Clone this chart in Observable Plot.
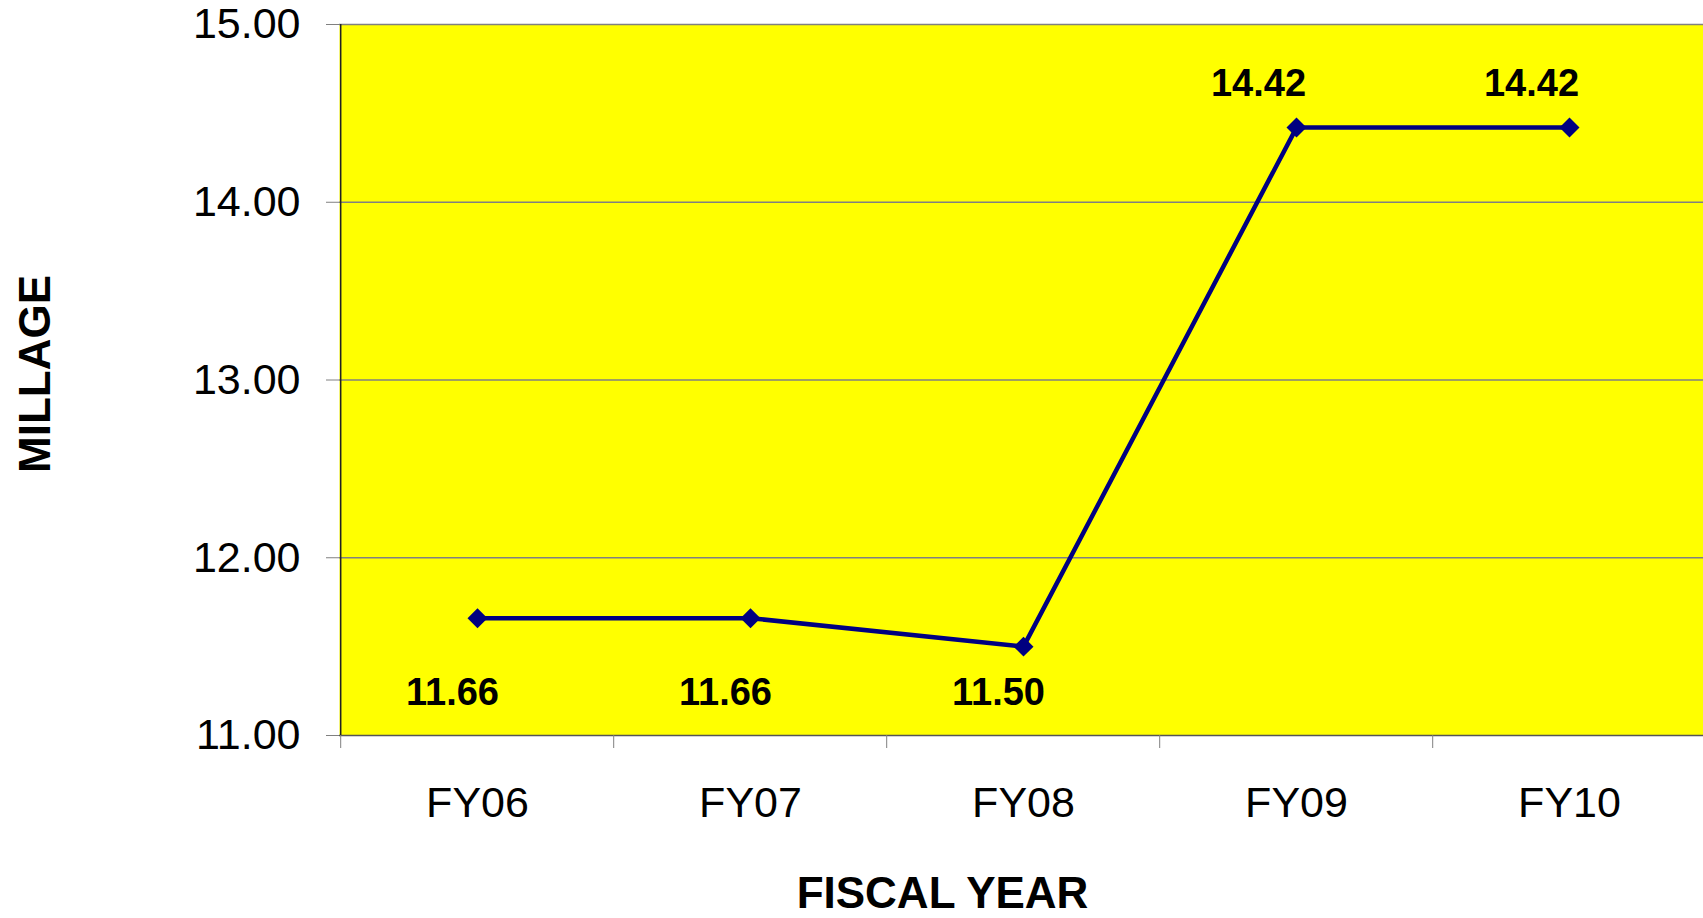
<!DOCTYPE html>
<html>
<head>
<meta charset="utf-8">
<script src="https://cdn.jsdelivr.net/npm/d3@7"></script>
<script src="https://cdn.jsdelivr.net/npm/@observablehq/plot@0.6"></script>
<style>
  html, body { margin: 0; padding: 0; background: #fff; overflow: hidden; }
  svg { display: block; }
</style>
</head>
<body>
<div id="chart"></div>
<script>
const years = ["FY06", "FY07", "FY08", "FY09", "FY10"];
const millage = [11.66, 11.66, 11.50, 14.42, 14.42];
const yTicks = [11, 12, 13, 14, 15];
const xTitle = "FISCAL YEAR";
const yTitle = "MILLAGE";

const data = years.map((year, i) => ({year, value: millage[i]}));
const below = data.filter(d => d.value < 13);
const above = data.filter(d => d.value >= 13);

const W = 1703, H = 918;
const xRange = [339, 1707];
const half = (xRange[1] - xRange[0]) / years.length / 2;
const fmt = d3.format(".2f");

const chart = Plot.plot({
  width: W,
  height: H,
  marginLeft: 339,
  marginRight: 0,
  marginTop: 24,
  marginBottom: 183,
  style: {fontFamily: "'Liberation Sans', Arial, sans-serif", color: "#000", background: "#fff"},
  x: {type: "point", domain: years, range: xRange, padding: 0.5, axis: null},
  y: {domain: [11, 15], axis: null},
  marks: [
    Plot.frame({fill: "#FFFF00", stroke: null}),
    Plot.ruleY(yTicks.slice(1), {y: d => d, stroke: "#808080", strokeWidth: 1.5}),
    Plot.ruleY([yTicks[0]], {y: d => d, stroke: "#555", strokeWidth: 1.5}),
    Plot.ruleX([years[0]], {x: d => d, dx: -half, stroke: "#222", strokeWidth: 1.5}),
    Plot.axisY({ticks: yTicks, tickFormat: fmt, tickSize: 13, tickPadding: 26, fontSize: 43, stroke: "#808080", label: null}),
    Plot.axisX({tickSize: 13, tickFormat: () => "", dx: -half, stroke: "#808080", label: null}),
    Plot.axisX({tickSize: 0, tickPadding: 51, fontSize: 43, label: null}),
    Plot.line(data, {x: "year", y: "value", stroke: "#000080", strokeWidth: 4.5}),
    Plot.dot(data, {x: "year", y: "value", symbol: "diamond2", r: 9, fill: "#000080", stroke: "none"}),
    Plot.text(below, {x: "year", text: d => fmt(d.value), frameAnchor: "bottom", dy: -31, dx: -25, fontSize: 38, fontWeight: "bold", fill: "#000"}),
    Plot.text(above, {x: "year", y: "value", text: d => fmt(d.value), dy: -44, dx: -38, fontSize: 38, fontWeight: "bold", fill: "#000"}),
    Plot.text([xTitle], {frameAnchor: "bottom", dx: -79, dy: 172, fontSize: 44, fontWeight: "bold", fill: "#000"}),
    Plot.text([yTitle], {frameAnchor: "left", textAnchor: "middle", rotate: -90, dx: -304, dy: -6, fontSize: 44, fontWeight: "bold", fill: "#000"})
  ]
});
document.getElementById("chart").appendChild(chart);
</script>
</body>
</html>
